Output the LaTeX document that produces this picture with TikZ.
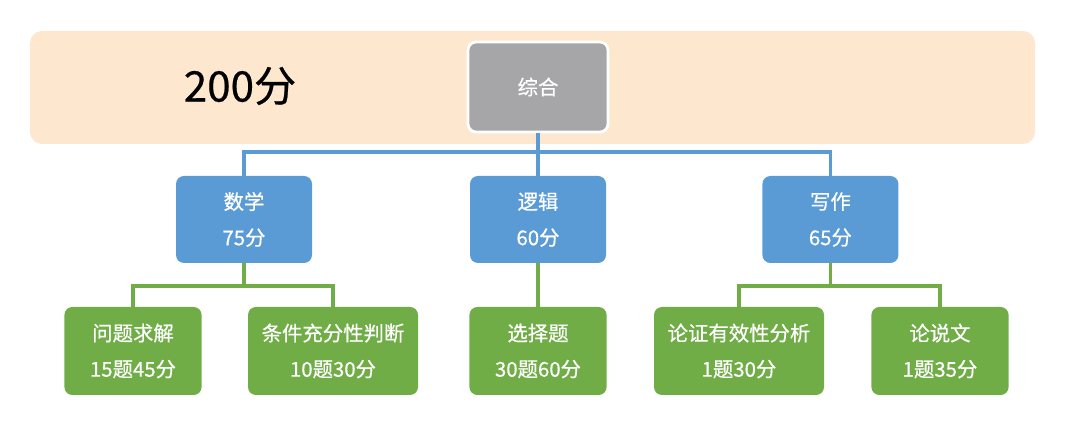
\documentclass[tikz,border=0pt]{standalone}
\usepackage{fontspec}
\setmainfont{Noto Sans CJK SC}[FakeBold=0.5,AutoFakeBold=0.5]

\definecolor{bandcol}{HTML}{FDE8CF}
\definecolor{topgray}{HTML}{A6A5A7}
\definecolor{subblue}{HTML}{5B9BD5}
\definecolor{partgreen}{HTML}{70AD47}

\tikzset{
  boxtext/.style={text=white, align=center, font=\fontsize{14.5}{25.5}\selectfont},
  topbox/.style={boxtext, fill=topgray, draw=white, line width=2pt, rounded corners=0.2cm,
    minimum width=3.5cm, minimum height=2.25cm},
  subbox/.style={boxtext, fill=subblue, rounded corners=0.2cm,
    minimum width=3.4cm, minimum height=2.175cm},
  partbox/.style={boxtext, fill=partgreen, rounded corners=0.2cm,
    minimum width=3.43cm, minimum height=2.2cm},
  blueline/.style={draw=subblue, line width=2.2pt},
  greenline/.style={draw=partgreen, line width=2.2pt}
}

\begin{document}
\begin{tikzpicture}
  \useasboundingbox (0,0) rectangle (26.7,10.6);
  % background band
  \fill[bandcol, rounded corners=0.3cm] (0.75,7.0) rectangle (25.875,9.825);
  \node (total) at (6.0,8.45) {\fontsize{30}{30}\selectfont 200分};
  \node[topbox] (top) at (13.45,8.425) {综合};
  % three subjects
  \node[subbox] (math) at (6.1,5.1125) {数学\\75分};
  \node[subbox] (logic) at (13.45,5.1125) {逻辑\\60分};
  \node[subbox] (write) at (20.76,5.1125) {写作\\65分};
  % question types
  \node[partbox] (solve) at (3.325,1.825) {问题求解\\15题45分};
  \node[partbox, minimum width=4.25cm] (suff) at (8.325,1.825) {条件充分性判断\\10题30分};
  \node[partbox] (choice) at (13.45,1.825) {选择题\\30题60分};
  \node[partbox, minimum width=4.25cm] (argue) at (18.475,1.825) {论证有效性分析\\1题30分};
  \node[partbox] (essay) at (23.5,1.825) {论说文\\1题35分};
  % blue connectors
  \coordinate (bj) at (13.45,6.8);
  \draw[blueline] (top.south) -- (bj) -| (math.north);
  \draw[blueline] (bj) -| (write.north);
  \draw[blueline] (bj) -- (logic.north);
  % green connectors
  \coordinate (mj) at (6.1,3.45);
  \coordinate (wj) at (20.76,3.45);
  \draw[greenline] (math.south) -- (mj) -| (solve.north);
  \draw[greenline] (mj) -| (suff.north);
  \draw[greenline] (logic.south) -- (choice.north);
  \draw[greenline] (write.south) -- (wj) -| (argue.north);
  \draw[greenline] (wj) -| (essay.north);
\end{tikzpicture}
\end{document}
